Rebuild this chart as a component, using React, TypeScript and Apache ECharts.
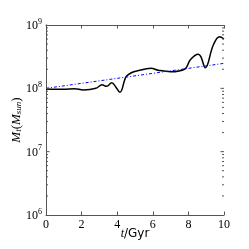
import React, { useEffect, useRef } from "react";
import * as echarts from "echarts";

const timeGyr = [0, 0.5, 1.0, 1.6, 2.1, 2.8, 3.15, 3.4, 3.7, 3.9, 4.15, 4.5, 4.8, 5.1, 5.9, 6.3, 7.0, 7.8, 8.1, 8.55, 8.7, 8.95, 9.4, 9.75, 10];
const massSun = [9.77e7, 9.66e7, 9.66e7, 9.89e7, 9.44e7, 1.0e8, 1.14e8, 1.076e8, 1.227e8, 1.07e8, 8.65e7, 1.53e8, 1.76e8, 1.88e8, 2.07e8, 1.93e8, 1.83e8, 2.02e8, 2.8e8, 3.44e8, 3.16e8, 2.12e8, 4.83e8, 6.53e8, 6.01e8];
const fitTime = [0, 10];
const fitMass = [1.0e8, 2.48e8];
const yMajorTicks = [1e7, 1e8];
const yMinorTicks = [2e6, 3e6, 4e6, 5e6, 6e6, 7e6, 8e6, 9e6, 2e7, 3e7, 4e7, 5e7, 6e7, 7e7, 8e7, 9e7, 2e8, 3e8, 4e8, 5e8, 6e8, 7e8, 8e8, 9e8];

export default function App() {
  const ref = useRef<HTMLDivElement>(null);
  useEffect(() => {
    if (!ref.current) return;
    const chart = echarts.init(ref.current, null, { renderer: "svg" });
    const axisColor = "#555";
    const serif = "Liberation Serif";
    const logLabel = (v: number) => `{b|10}{s|${Math.round(Math.log10(v))}}`;
    const richLabel = {
      b: { fontSize: 12, fontFamily: serif, color: "#000" },
      s: { fontSize: 8, fontFamily: serif, color: "#000", padding: [0, 0, 8, 0] },
    };
    const tickData: number[][] = [];
    yMinorTicks.forEach((v) => {
      tickData.push([0, v, 1, 2]);
      tickData.push([10, v, -1, 2]);
    });
    yMajorTicks.forEach((v) => {
      tickData.push([0, v, 1, 3.5]);
      tickData.push([10, v, -1, 3.5]);
    });
    chart.setOption({
      animation: false,
      grid: { left: 46, right: 25, top: 25, bottom: 34, outerBoundsMode: "none", containLabel: false },
      xAxis: [
        {
          type: "value", min: 0, max: 10, interval: 2,
          axisLine: { show: true, lineStyle: { color: axisColor, width: 1 } },
          axisTick: { show: true, inside: true, length: 3.5, lineStyle: { color: axisColor } },
          splitLine: { show: false },
          axisLabel: { fontFamily: serif, fontSize: 12, color: "#000", margin: 3 },
          name: "{i|t}{n|/Gyr}",
          nameLocation: "middle",
          nameGap: 12,
          nameMoveOverlap: false,
          nameTextStyle: {
            rich: {
              i: { fontFamily: serif, fontStyle: "italic", fontSize: 12, color: "#000" },
              n: { fontFamily: "DejaVu Sans", fontSize: 12, color: "#000" },
            },
          },
        },
        {
          type: "value", min: 0, max: 10, interval: 2, position: "top",
          axisLine: { show: true, lineStyle: { color: axisColor, width: 1 } },
          axisTick: { show: true, inside: true, length: 3.5, lineStyle: { color: axisColor } },
          splitLine: { show: false },
          axisLabel: { show: false },
        },
      ],
      yAxis: [
        {
          type: "log", logBase: 10, min: 1e6, max: 1e9,
          axisLine: { show: true, lineStyle: { color: axisColor, width: 1 } },
          axisTick: { show: false },
          splitLine: { show: false },
          axisLabel: { formatter: logLabel, rich: richLabel, margin: 4 },
          name: "{m|M}{sb|t}{p|(}{m|M}{sb|sun}{p|)}",
          nameLocation: "middle",
          nameGap: 24,
          nameMoveOverlap: false,
          nameTextStyle: {
            rich: {
              m: { fontFamily: serif, fontStyle: "italic", fontSize: 13, color: "#000" },
              sb: { fontFamily: serif, fontStyle: "italic", fontSize: 9, color: "#000", padding: [4, 0, 0, 0] },
              p: { fontFamily: serif, fontSize: 13, color: "#000" },
            },
          },
        },
        {
          type: "log", logBase: 10, min: 1e6, max: 1e9, position: "right",
          axisLine: { show: true, lineStyle: { color: axisColor, width: 1 } },
          axisTick: { show: false },
          splitLine: { show: false },
          axisLabel: { show: false },
        },
      ],
      series: [
        {
          type: "line",
          data: timeGyr.map((t, i) => [t, massSun[i]]),
          smooth: 0.4,
          showSymbol: false,
          lineStyle: { color: "#000", width: 1.5 },
          z: 3,
        },
        {
          type: "line",
          data: fitTime.map((t, i) => [t, fitMass[i]]),
          showSymbol: false,
          lineStyle: { color: "#0000ff", width: 1, type: [3, 2, 1, 2] },
          z: 4,
        },
        {
          type: "custom",
          clip: false,
          data: tickData,
          renderItem: (params: any, api: any) => {
            const p = api.coord([api.value(0), api.value(1)]);
            const dir = api.value(2);
            const len = api.value(3);
            return {
              type: "line",
              shape: { x1: p[0], y1: p[1], x2: p[0] + len * dir, y2: p[1] },
              style: { stroke: axisColor, lineWidth: 1 },
            };
          },
          z: 5,
        },
      ],
    });
    return () => chart.dispose();
  }, []);
  return <div ref={ref} style={{ position: "fixed", left: 0, top: 0, width: 249, height: 249 }} />;
}
